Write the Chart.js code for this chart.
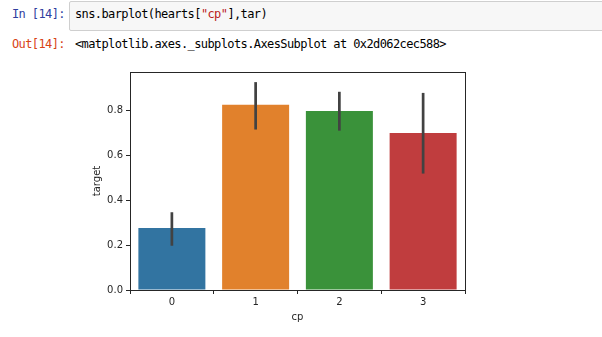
<!DOCTYPE html>
<html><head><meta charset="utf-8">
<script src="https://cdn.jsdelivr.net/npm/chart.js@4/dist/chart.umd.min.js"></script>
<style>
html,body{margin:0;padding:0;background:#fff;width:602px;height:337px;overflow:hidden;}
.mono{font-family:"DejaVu Sans Mono",monospace;font-size:12px;letter-spacing:-0.6px;position:absolute;white-space:pre;}
#inp{left:12px;top:7px;color:#303F9F;}
#box{position:absolute;left:69px;top:1px;width:540px;height:28px;background:#f7f7f7;border:1px solid #cfcfcf;border-radius:2px;}
#code{left:75px;top:7px;color:#000;}
#out{left:12px;top:37px;color:#D84315;}
#res{left:75px;top:37px;color:#000;}
#wrap{position:absolute;left:0;top:60px;width:602px;height:277px;}
</style></head>
<body>
<div id="box"></div>
<div class="mono" id="inp">In [14]:</div>
<div class="mono" id="code">sns.barplot(hearts[<span style="color:#BA2121">"cp"</span>],tar)</div>
<div class="mono" id="out">Out[14]:</div>
<div class="mono" id="res">&lt;matplotlib.axes._subplots.AxesSubplot at 0x2d062cec588&gt;</div>
<div id="wrap"><canvas id="c" width="602" height="277"></canvas></div>
<script>
const categories = ["0", "1", "2", "3"];
const meanTarget = [0.276, 0.824, 0.797, 0.699];
const ciLow = [0.197, 0.714, 0.709, 0.518];
const ciHigh = [0.346, 0.925, 0.882, 0.877];
const barColors = ["#3274a1", "#e1812c", "#3a923a", "#c03d3e"];
const yTicks = [0.0, 0.2, 0.4, 0.6, 0.8];

const txt = '#262626';
const fontBase = {family: '"DejaVu Sans", sans-serif', size: 10};

const errPlugin = {
  id: 'err',
  afterDatasetsDraw(chart) {
    const ctx = chart.ctx, x = chart.scales.x, y = chart.scales.y;
    ctx.save();
    ctx.strokeStyle = '#424242';
    ctx.lineWidth = 2.7;
    categories.forEach((c, i) => {
      const px = x.getPixelForValue(i);
      ctx.beginPath();
      ctx.moveTo(px, y.getPixelForValue(ciLow[i]));
      ctx.lineTo(px, y.getPixelForValue(ciHigh[i]));
      ctx.stroke();
    });
    const a = chart.chartArea;
    ctx.strokeStyle = txt;
    ctx.lineWidth = 1;
    ctx.strokeRect(Math.round(a.left) + 0.5, Math.round(a.top) + 0.5, Math.round(a.right - a.left), Math.round(a.bottom - a.top));
    ctx.restore();
  }
};

new Chart(document.getElementById('c'), {
  type: 'bar',
  data: {
    labels: categories,
    datasets: [{data: meanTarget, backgroundColor: barColors, borderWidth: 0,
      categoryPercentage: 1.0, barPercentage: 0.8}]
  },
  options: {
    responsive: false, animation: false,
    layout: {padding: {left: 0, right: 137, top: 12, bottom: 0}},
    plugins: {legend: {display: false}, tooltip: {enabled: false}},
    scales: {
      x: {
        grid: {drawOnChartArea: false, drawTicks: true, tickLength: 4, color: txt},
        border: {display: true, color: txt},
        ticks: {color: txt, font: fontBase, padding: 2},
        title: {display: true, text: 'cp', color: txt, font: fontBase, padding: {top: 0, bottom: 14}},
        afterFit(s) { s.height = 47; }
      },
      y: {
        min: 0, max: 0.97,
        afterBuildTicks(s) { s.ticks = yTicks.map(v => ({value: v})); },
        grid: {drawOnChartArea: false, drawTicks: true, tickLength: 4, color: txt},
        border: {display: true, color: txt},
        ticks: {color: txt, font: fontBase, padding: 3, callback: v => Number(v).toFixed(1)},
        title: {display: true, text: 'target', color: txt, font: fontBase, padding: {top: 91, bottom: 0}},
        afterFit(s) { s.width = 130; }
      }
    }
  },
  plugins: [errPlugin]
});
</script>
</body></html>
